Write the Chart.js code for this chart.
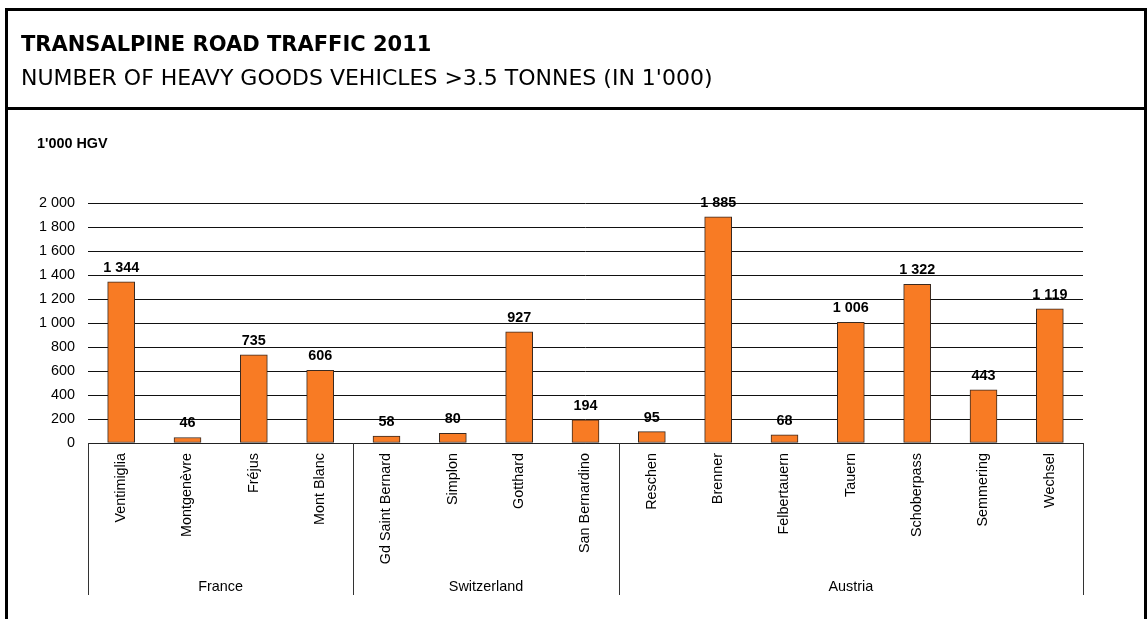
<!DOCTYPE html>
<html>
<head>
<meta charset="utf-8">
<script src="https://cdn.jsdelivr.net/npm/chart.js@4/dist/chart.umd.min.js"></script>
<style>
  html, body { margin: 0; padding: 0; background: #fff; }
  #wrap { position: relative; width: 1147px; height: 619px; }
  canvas { display: block; }
</style>
</head>
<body>
<div id="wrap"><canvas id="c" width="1147" height="619"></canvas></div>
<script>
// Alpine crossings and their 2011 heavy goods vehicle counts (in 1'000)
const passes = ['Ventimiglia', 'Montgenèvre', 'Fréjus', 'Mont Blanc',
  'Gd Saint Bernard', 'Simplon', 'Gotthard', 'San Bernardino',
  'Reschen', 'Brenner', 'Felbertauern', 'Tauern', 'Schoberpass', 'Semmering', 'Wechsel'];
const hgv = [1344, 46, 735, 606, 58, 80, 927, 194, 95, 1885, 68, 1006, 1322, 443, 1119];

// Countries and how many consecutive crossings belong to each
const countries = ['France', 'Switzerland', 'Austria'];
const countryCounts = [4, 4, 7];

const yTicks = [0, 200, 400, 600, 800, 1000, 1200, 1400, 1600, 1800, 2000];

const titleText = 'TRANSALPINE ROAD TRAFFIC 2011';
const subtitleText = "NUMBER OF HEAVY GOODS VEHICLES >3.5 TONNES (IN 1'000)";
const unitText = "1'000 HGV";

const ARIAL = '"Liberation Sans", Arial, sans-serif';
const TITLE_FONT = '"DejaVu Sans", "Open Sans", sans-serif';
const FS = 14.4;

function fmt(v) {
  return String(v).replace(/\B(?=(\d{3})+(?!\d))/g, ' ');
}

// Frame, header box and unit label
const framePlugin = {
  id: 'frame',
  beforeDraw(chart) {
    const ctx = chart.ctx;
    ctx.save();
    ctx.fillStyle = '#fff';
    ctx.fillRect(0, 0, chart.width, chart.height);
    ctx.strokeStyle = '#000';
    ctx.lineWidth = 3;
    ctx.beginPath();
    ctx.moveTo(6.5, chart.height + 2);
    ctx.lineTo(6.5, 9.5);
    ctx.lineTo(1145.5, 9.5);
    ctx.lineTo(1145.5, chart.height + 2);
    ctx.moveTo(6.5, 108.5);
    ctx.lineTo(1145.5, 108.5);
    ctx.stroke();

    ctx.fillStyle = '#000';
    ctx.textBaseline = 'alphabetic';
    ctx.textAlign = 'left';
    ctx.font = 'bold 21px ' + TITLE_FONT;
    ctx.fillText(titleText, 21, 51);
    ctx.font = '22px ' + TITLE_FONT;
    ctx.fillText(subtitleText, 21, 85);

    ctx.font = 'bold ' + FS + 'px ' + ARIAL;
    ctx.fillText(unitText, 37, 148);
    ctx.restore();
  }
};

// Value labels above bars, country grouping lines and names
const annotatePlugin = {
  id: 'annotate',
  afterDatasetsDraw(chart) {
    const ctx = chart.ctx;
    const meta = chart.getDatasetMeta(0);
    const area = chart.chartArea;
    ctx.save();
    ctx.fillStyle = '#000';
    ctx.font = 'bold ' + FS + 'px ' + ARIAL;
    ctx.textAlign = 'center';
    ctx.textBaseline = 'alphabetic';
    meta.data.forEach((bar, i) => {
      ctx.fillText(fmt(hgv[i]), bar.x, bar.y - 10);
    });

    // baseline
    ctx.strokeStyle = '#222';
    ctx.lineWidth = 1;
    ctx.beginPath();
    ctx.moveTo(area.left, Math.round(area.bottom) + 0.5);
    ctx.lineTo(area.right, Math.round(area.bottom) + 0.5);
    ctx.stroke();

    const step = (area.right - area.left) / passes.length;
    let start = 0;
    const bounds = [area.left];
    countryCounts.forEach(n => { start += n; bounds.push(area.left + start * step); });
    ctx.strokeStyle = '#333';
    ctx.beginPath();
    bounds.forEach(b => {
      const x = Math.round(b) + 0.5;
      ctx.moveTo(x, area.bottom);
      ctx.lineTo(x, 595);
    });
    ctx.stroke();

    ctx.font = FS + 'px ' + ARIAL;
    ctx.textAlign = 'center';
    countries.forEach((name, i) => {
      ctx.fillText(name, (bounds[i] + bounds[i + 1]) / 2, 591);
    });
    ctx.restore();
  }
};

new Chart(document.getElementById('c'), {
  type: 'bar',
  data: {
    labels: passes,
    datasets: [{
      data: hgv,
      backgroundColor: '#F87B24',
      borderColor: '#3a2a20',
      borderWidth: 1,
      barThickness: 27,
      borderSkipped: false
    }]
  },
  options: {
    responsive: false,
    animation: false,
    devicePixelRatio: 1,
    layout: { padding: { left: 0, top: 203, right: 64, bottom: 0 } },
    plugins: {
      legend: { display: false },
      tooltip: { enabled: false },
      title: { display: false }
    },
    scales: {
      x: {
        grid: { display: false, drawTicks: false },
        border: { display: false },
        ticks: {
          minRotation: 90,
          maxRotation: 90,
          autoSkip: false,
          padding: 10,
          color: '#000',
          font: { family: ARIAL, size: FS }
        },
        afterFit(scale) { scale.height = 176; }
      },
      y: {
        min: 0,
        max: 2000,
        afterBuildTicks(scale) { scale.ticks = yTicks.map(v => ({ value: v })); },
        grid: { color: '#111', lineWidth: 1, drawTicks: false },
        border: { display: false },
        ticks: {
          padding: 13,
          color: '#000',
          font: { family: ARIAL, size: FS },
          callback: v => fmt(v)
        },
        afterFit(scale) { scale.width = 88; }
      }
    }
  },
  plugins: [framePlugin, annotatePlugin]
});
</script>
</body>
</html>
